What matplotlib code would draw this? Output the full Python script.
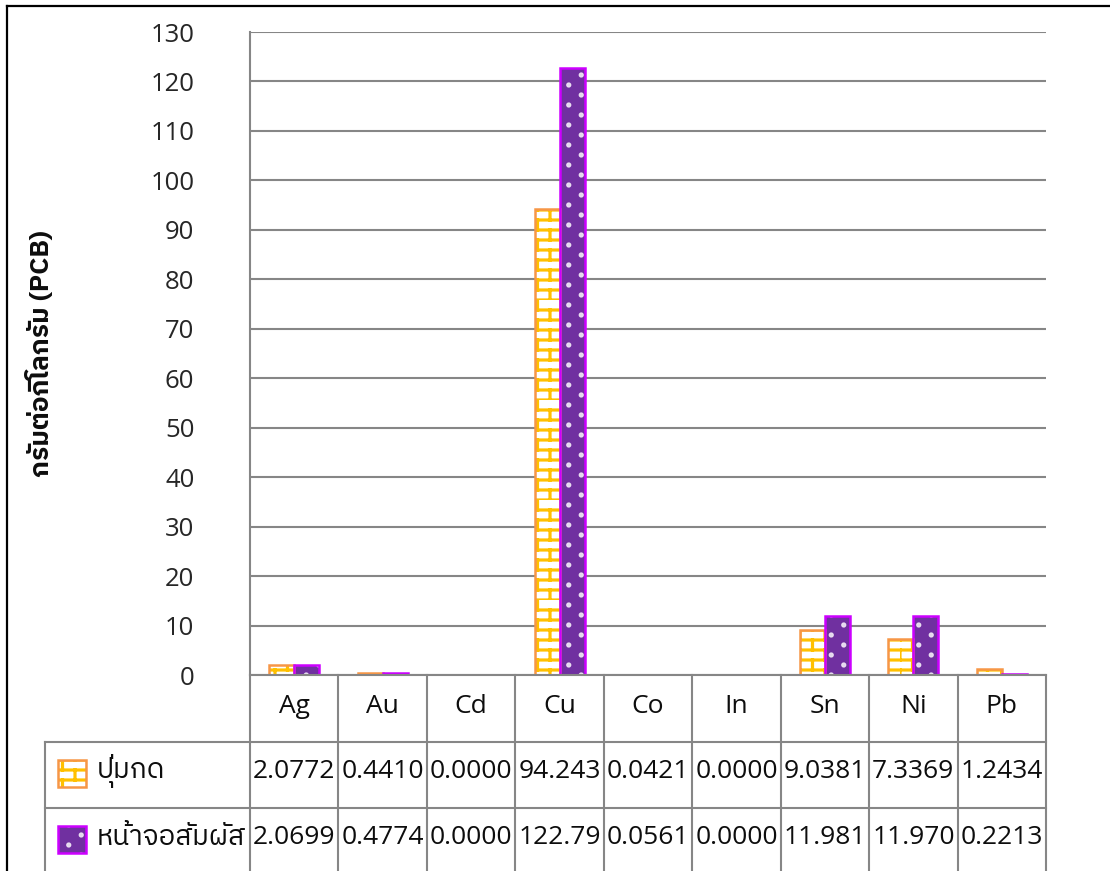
import warnings
warnings.filterwarnings("ignore")
import numpy as np
import matplotlib
matplotlib.use("Agg")
import matplotlib.pyplot as plt
from matplotlib import hatch as mhatch
from matplotlib.path import Path
from matplotlib.patches import Rectangle
from matplotlib.lines import Line2D
from matplotlib import font_manager
from matplotlib.ft2font import FT2Font

# ---------------- data ----------------
categories = ["Ag", "Au", "Cd", "Cu", "Co", "In", "Sn", "Ni", "Pb"]
series_names = ["ปุ่มกด", "หน้าจอสัมผัส"]
keypad = [2.0772, 0.4410, 0.0000, 94.243, 0.0421, 0.0000, 9.0381, 7.3369, 1.2434]
touch = [2.0699, 0.4774, 0.0000, 122.79, 0.0561, 0.0000, 11.981, 11.970, 0.2213]
keypad_labels = ["2.0772", "0.4410", "0.0000", "94.243", "0.0421", "0.0000", "9.0381", "7.3369", "1.2434"]
touch_labels = ["2.0699", "0.4774", "0.0000", "122.79", "0.0561", "0.0000", "11.981", "11.970", "0.2213"]
y_ticks = list(range(0, 131, 10))
y_label = "กรัมต่อกิโลกรัม (PCB)"

# ---------------- fonts ----------------
def find_thai_font():
    cands = []
    for f in font_manager.fontManager.ttflist:
        try:
            cm = FT2Font(f.fname).get_charmap()
        except Exception:
            continue
        if ord("ก") in cm and ord("ั") in cm:
            cands.append(f.name)
    pref = [c for c in cands if "Thai" in c and "Looped" not in c]
    if pref:
        return pref[0]
    return cands[0] if cands else "DejaVu Sans"

THAI = find_thai_font()
LATIN = "Open Sans"
plt.rcParams["font.family"] = [LATIN, THAI, "DejaVu Sans"]

# ---------------- custom hatches ----------------
class BrickHatch(mhatch.HatchPatternBase):
    def __init__(self, hatch, density):
        n = hatch.count("B")
        self.rows = 10 * n
        self.cols = 4 * n
        self.num_vertices = (2 * self.rows + 2 * self.rows * self.cols) if n else 0

    def set_vertices_and_codes(self, vertices, codes):
        k = 0
        R, C = self.rows, self.cols
        for i in range(R):
            y0 = i / R
            vertices[k] = (0.0, y0); codes[k] = Path.MOVETO; k += 1
            vertices[k] = (1.0, y0); codes[k] = Path.LINETO; k += 1
            for j in range(C):
                x = (j + 0.5 * (i % 2)) / C
                vertices[k] = (x, y0); codes[k] = Path.MOVETO; k += 1
                vertices[k] = (x, y0 + 1.0 / R); codes[k] = Path.LINETO; k += 1


class DotHatch(mhatch.HatchPatternBase):
    def __init__(self, hatch, density):
        n = hatch.count("D")
        self.rows = 10 * n
        self.cols = 4 * n
        circ = Path.unit_circle()
        self.cv = circ.vertices
        self.cc = circ.codes
        self.num_vertices = (len(self.cv) * self.rows * self.cols) if n else 0

    def set_vertices_and_codes(self, vertices, codes):
        R, C = self.rows, self.cols
        r = 0.010
        k = 0
        nv = len(self.cv)
        for i in range(R):
            for j in range(C):
                x = (j + 0.25 + 0.5 * (i % 2)) / C
                y = (i + 0.5) / R
                vertices[k:k + nv] = self.cv * r + (x, y)
                codes[k:k + nv] = self.cc
                k += nv


mhatch._hatch_types.append(BrickHatch)
mhatch._hatch_types.append(DotHatch)
plt.rcParams["hatch.linewidth"] = 2.3

# ---------------- styles ----------------
ORANGE_EDGE = "#F79646"
GOLD = "#FFC000"
PURPLE = "#7030A0"
MAGENTA = "#CC00FF"
GRID = "#868686"
TXT = "#0D0D0D"

W, H = 1110, 871
fig = plt.figure(figsize=(W / 100, H / 100), dpi=100)

ax_l, ax_r, ax_t, ax_b = 250, 1046, 32, 675
ax = fig.add_axes([ax_l / W, 1 - ax_b / H, (ax_r - ax_l) / W, (ax_b - ax_t) / H])
ncat = len(categories)
ax.set_xlim(-0.5, ncat - 0.5)
ax.set_ylim(0, 130)
x = np.arange(ncat)
bw = 0.283

def styled_bars(axis, xs, vals, kind):
    if kind == 0:
        axis.bar(xs, vals, bw, facecolor="white", edgecolor=GOLD, linewidth=0, hatch="B", zorder=3)
        axis.bar(xs, vals, bw, fill=False, edgecolor=ORANGE_EDGE, linewidth=1.8, zorder=4)
    else:
        axis.bar(xs, vals, bw, facecolor=PURPLE, edgecolor="#E8DDF0", linewidth=0, hatch="D", zorder=3)
        axis.bar(xs, vals, bw, fill=False, edgecolor=MAGENTA, linewidth=1.8, zorder=4)

styled_bars(ax, x - bw / 2, keypad, 0)
styled_bars(ax, x + bw / 2, touch, 1)

ax.set_yticks(y_ticks)
ax.set_yticklabels([str(t) for t in y_ticks], fontsize=18.5, color="#262626")
ax.tick_params(axis="y", length=0, pad=40)
ax.tick_params(axis="x", length=0, labelbottom=False)
ax.grid(axis="y", color=GRID, linewidth=1.5, zorder=0)
ax.set_axisbelow(True)
for s in ["top", "right", "bottom"]:
    ax.spines[s].set_visible(False)
ax.spines["left"].set_color(GRID)
ax.spines["left"].set_linewidth(1.5)
ax.axhline(0, color=GRID, linewidth=1.5, zorder=5, clip_on=False)

fig.text(40 / W, 1 - 354 / H, y_label, rotation=90, ha="center", va="center",
         fontsize=19, fontweight="bold", family=[THAI, LATIN], color=TXT)

# ---------------- data table ----------------
tl = 45
cat_px = (ax_r - ax_l) / ncat
th = H - ax_b
tax = fig.add_axes([tl / W, 0, (ax_r - tl) / W, th / H])
x_left = -0.5 - (ax_l - tl) / cat_px
tax.set_xlim(x_left, ncat - 0.5)
tax.set_ylim(th, 0)
tax.axis("off")

def px2x(px):
    return x_left + (px - tl) / cat_px

lk = dict(color=GRID, linewidth=1.5, solid_capstyle="projecting")
for k in range(ncat + 1):
    tax.plot([k - 0.5, k - 0.5], [0, th + 5], clip_on=False, **lk)
tax.plot([x_left, x_left], [742 - ax_b, th + 5], clip_on=False, **lk)
for yy in [742, 808]:
    tax.plot([x_left, ncat - 0.5], [yy - ax_b, yy - ax_b], clip_on=False, **lk)

FS = 19
for i, c in enumerate(categories):
    tax.text(i, 706 - ax_b, c, ha="center", va="center", fontsize=FS, color=TXT)
    tax.text(i, 771 - ax_b, keypad_labels[i], ha="center", va="center", fontsize=FS, color=TXT)
    tax.text(i, 837 - ax_b, touch_labels[i], ha="center", va="center", fontsize=FS, color=TXT)

# legend keys
for row, (yc, kind) in enumerate([(774, 0), (840, 1)]):
    x0, x1 = px2x(58), px2x(86)
    y0, y1 = yc - 14 - ax_b, yc + 13 - ax_b
    if kind == 0:
        tax.add_patch(Rectangle((x0, y0), x1 - x0, y1 - y0, facecolor="white", edgecolor=GOLD,
                                linewidth=0, hatch="B", clip_on=False))
        tax.add_patch(Rectangle((x0, y0), x1 - x0, y1 - y0, fill=False, edgecolor=ORANGE_EDGE,
                                linewidth=1.8, clip_on=False))
    else:
        tax.add_patch(Rectangle((x0, y0), x1 - x0, y1 - y0, facecolor=PURPLE, edgecolor="#E8DDF0",
                                linewidth=0, hatch="D", clip_on=False))
        tax.add_patch(Rectangle((x0, y0), x1 - x0, y1 - y0, fill=False, edgecolor=MAGENTA,
                                linewidth=1.8, clip_on=False))
    tax.text(px2x(97), (771 if row == 0 else 837) - ax_b, series_names[row], ha="left", va="center",
             fontsize=20, family=[THAI, LATIN], color=TXT)

# outer frame (top and left only visible)
fig.add_artist(Line2D([7 / W, 1], [1 - 6 / H, 1 - 6 / H], color="black", linewidth=1.6))
fig.add_artist(Line2D([7 / W, 7 / W], [0, 1 - 6 / H], color="black", linewidth=1.6))

fig.savefig("out.png", dpi=100)
